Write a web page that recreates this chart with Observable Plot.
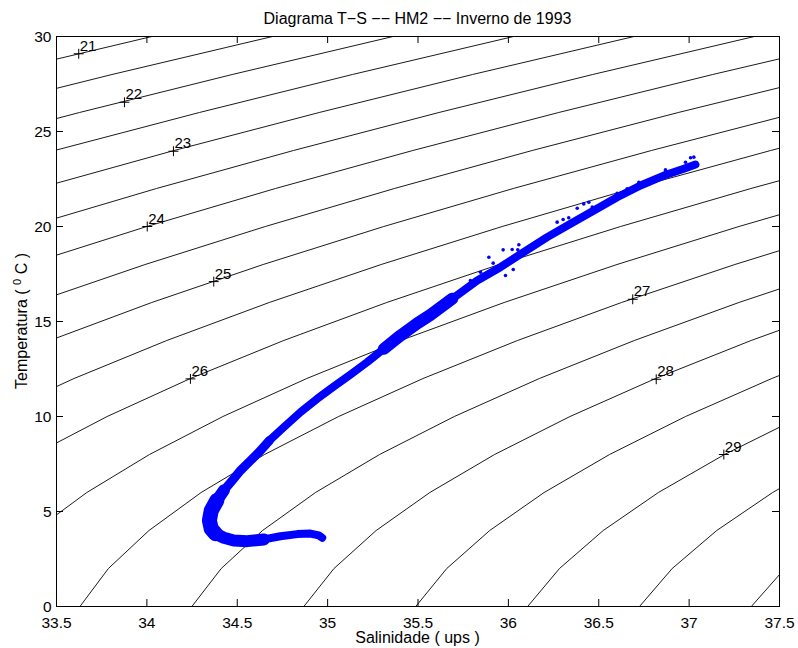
<!DOCTYPE html>
<html><head><meta charset="utf-8">
<script src="https://cdn.jsdelivr.net/npm/d3@7"></script>
<script src="https://cdn.jsdelivr.net/npm/@observablehq/plot@0.6"></script>
<style>
body{margin:0;background:#fff;}
#chart{width:798px;height:648px;}
</style></head><body><div id="chart"></div>
<script>
// ---- text ----
const title = "Diagrama T−S −− HM2 −− Inverno de 1993";
const xLabel = "Salinidade ( ups )";
const yLabelBefore = "Temperatura ( ";
const yLabelSup = "0";
const yLabelAfter = " C )";

// ---- axes ----
const xTicks = [33.5, 34, 34.5, 35, 35.5, 36, 36.5, 37, 37.5];
const yTicks = [0, 5, 10, 15, 20, 25, 30];

// ---- density (sigma-t) isolines ----
const sigmaLevels = [21, 21.5, 22, 22.5, 23, 23.5, 24, 24.5, 25, 25.5, 26, 26.5, 27, 27.5, 28, 28.5, 29, 29.5, 30];
const gridT = [0, 2, 4, 6, 8, 10, 12, 14, 16, 18, 20, 22, 24, 26, 28, 30];

// manual contour labels
const labelLevels = [21, 22, 23, 24, 25, 26, 27, 28, 29];
const labelS = [33.623, 33.876, 34.147, 34.002, 34.370, 34.241, 36.688, 36.818, 37.192];
const labelT = [29.09, 26.54, 23.96, 20.00, 17.10, 11.98, 16.17, 11.96, 8.00];

// ---- HM2 CTD profile ----
const tailS = [34.970, 34.951, 34.905, 34.832, 34.739, 34.647];
const tailT = [3.62, 3.74, 3.84, 3.81, 3.70, 3.53];
const bendS = [34.647, 34.555, 34.481, 34.426, 34.380, 34.356, 34.346, 34.356, 34.387, 34.426];
const bendT = [3.53, 3.44, 3.47, 3.62, 3.83, 4.09, 4.53, 5.05, 5.58, 6.11];
const lobeS = [34.380, 34.356, 34.346, 34.356, 34.387];
const lobeT = [3.83, 4.09, 4.53, 5.05, 5.58];
const hookS = [34.426, 34.472, 34.518, 34.573, 34.629, 34.678];
const hookT = [6.11, 6.63, 7.16, 7.68, 8.21, 8.74];
const midS = [34.678, 34.758, 34.850, 34.942, 35.034, 35.127, 35.219, 35.311];
const midT = [8.74, 9.44, 10.23, 10.93, 11.58, 12.21, 12.86, 13.56];
const wideS = [35.311, 35.403, 35.496, 35.569, 35.690];
const wideT = [13.56, 14.26, 14.90, 15.35, 16.20];
const topS = [35.690, 35.828, 35.956, 36.085, 36.215, 36.344, 36.473, 36.602, 36.731, 36.860, 36.971, 37.035];
const topT = [16.20, 17.16, 17.86, 18.65, 19.44, 20.14, 20.84, 21.54, 22.16, 22.68, 23.04, 23.26];
const scatterS = [35.892, 35.971, 36.021, 36.052, 36.058, 35.916, 36.027, 35.984, 36.270, 36.303, 36.334, 36.381, 36.417, 36.445, 36.464, 36.519, 36.602, 36.657, 36.722, 36.869, 36.980, 37.026, 37.008, 35.846, 35.790, 35.772];
const scatterT = [18.38, 18.77, 18.79, 18.77, 19.04, 18.07, 17.74, 17.42, 20.23, 20.37, 20.46, 20.96, 21.19, 21.28, 21.02, 21.19, 21.75, 21.98, 22.33, 22.98, 23.38, 23.65, 23.62, 17.59, 17.16, 16.81];

// UNESCO 1981 equation of state at p = 0 -> sigma-t
function sigmaT(S, T) {
  const rw = 999.842594 + 6.793952e-2*T - 9.095290e-3*T*T + 1.001685e-4*T**3 - 1.120083e-6*T**4 + 6.536332e-9*T**5;
  const A = 8.24493e-1 - 4.0899e-3*T + 7.6438e-5*T*T - 8.2467e-7*T**3 + 5.3875e-9*T**4;
  const B = -5.72466e-3 + 1.0227e-4*T - 1.6546e-6*T*T;
  const C = 4.8314e-4;
  return rw + A*S + B*S**1.5 + C*S*S - 1000;
}
function salinityFor(level, T) {
  let lo = 15, hi = 55;
  for (let i = 0; i < 60; i++) {
    const m = (lo + hi) / 2;
    if (sigmaT(m, T) < level) lo = m; else hi = m;
  }
  return (lo + hi) / 2;
}
const contourRows = sigmaLevels.flatMap(level => gridT.map(T => ({level, S: salinityFor(level, T), T})));
const labelRows = labelLevels.map((l, i) => ({label: String(l), S: labelS[i], T: labelT[i]}));
const seg = (S, T) => S.map((s, i) => ({S: s, T: T[i]}));

const W = 798, H = 648, mL = 56, mR = 19, mT = 36, mB = 42;
const plotW = W - mL - mR, plotH = H - mT - mB;
const font = "'Liberation Sans', Arial, Helvetica, sans-serif";
const blue = "#0000ff";
const band = (S, T, w) => Plot.line(seg(S, T), {x: "S", y: "T", stroke: blue, strokeWidth: w, strokeLinecap: "round", strokeLinejoin: "round"});

const chart = Plot.plot({
  width: W, height: H,
  marginLeft: mL, marginRight: mR, marginTop: mT, marginBottom: mB,
  style: {fontFamily: font, fontSize: "15.5px", background: "white", color: "black"},
  x: {domain: [33.5, 37.5]},
  y: {domain: [0, 30]},
  marks: [
    Plot.line(contourRows, {x: "S", y: "T", z: "level", stroke: "black", strokeWidth: 0.9, clip: true}),
    band(tailS, tailT, 8),
    band(bendS, bendT, 12),
    band(lobeS, lobeT, 15),
    band(hookS, hookT, 9),
    band(midS, midT, 8),
    band(wideS, wideT, 12),
    band(topS, topT, 8),
    Plot.dot(seg(scatterS, scatterT), {x: "S", y: "T", r: 1.8, fill: blue}),
    Plot.dot(labelRows, {x: "S", y: "T", symbol: "plus", r: 3.3, stroke: "black", strokeWidth: 1}),
    Plot.text(labelRows, {x: "S", y: "T", text: "label", textAnchor: "start", lineAnchor: "bottom", dx: 1, dy: -3, fontSize: 15, fill: "black"}),
    Plot.frame({stroke: "black", strokeWidth: 1}),
    Plot.tickX(xTicks, {x: d => d, insetTop: plotH - 7, stroke: "black"}),
    Plot.tickX(xTicks, {x: d => d, insetBottom: plotH - 7, stroke: "black"}),
    Plot.tickY(yTicks, {y: d => d, insetRight: plotW - 7, stroke: "black"}),
    Plot.tickY(yTicks, {y: d => d, insetLeft: plotW - 7, stroke: "black"}),
    Plot.axisX({ticks: xTicks, tickSize: 0, tickPadding: 10, tickFormat: d => String(d), label: null, fontSize: 15.5}),
    Plot.axisY({ticks: yTicks, tickSize: 0, tickPadding: 5, tickFormat: d => String(d), label: null, dy: 1, fontSize: 15.5})
  ]
});
document.getElementById("chart").appendChild(chart);

const svg = d3.select(chart);
svg.append("text").attr("x", mL + plotW / 2).attr("y", 24).attr("text-anchor", "middle")
  .attr("font-family", font).attr("font-size", 16).attr("fill", "black").text(title);
svg.append("text").attr("x", mL + plotW / 2).attr("y", 643).attr("text-anchor", "middle")
  .attr("font-family", font).attr("font-size", 16).attr("fill", "black").text(xLabel);
const yl = svg.append("text").attr("transform", `translate(27,${mT + plotH / 2}) rotate(-90)`)
  .attr("text-anchor", "middle").attr("font-family", font).attr("font-size", 16).attr("fill", "black");
yl.append("tspan").text(yLabelBefore);
yl.append("tspan").attr("font-size", 11).attr("dy", -6).text(yLabelSup);
yl.append("tspan").attr("dy", 6).text(yLabelAfter);
</script>
</body></html>
